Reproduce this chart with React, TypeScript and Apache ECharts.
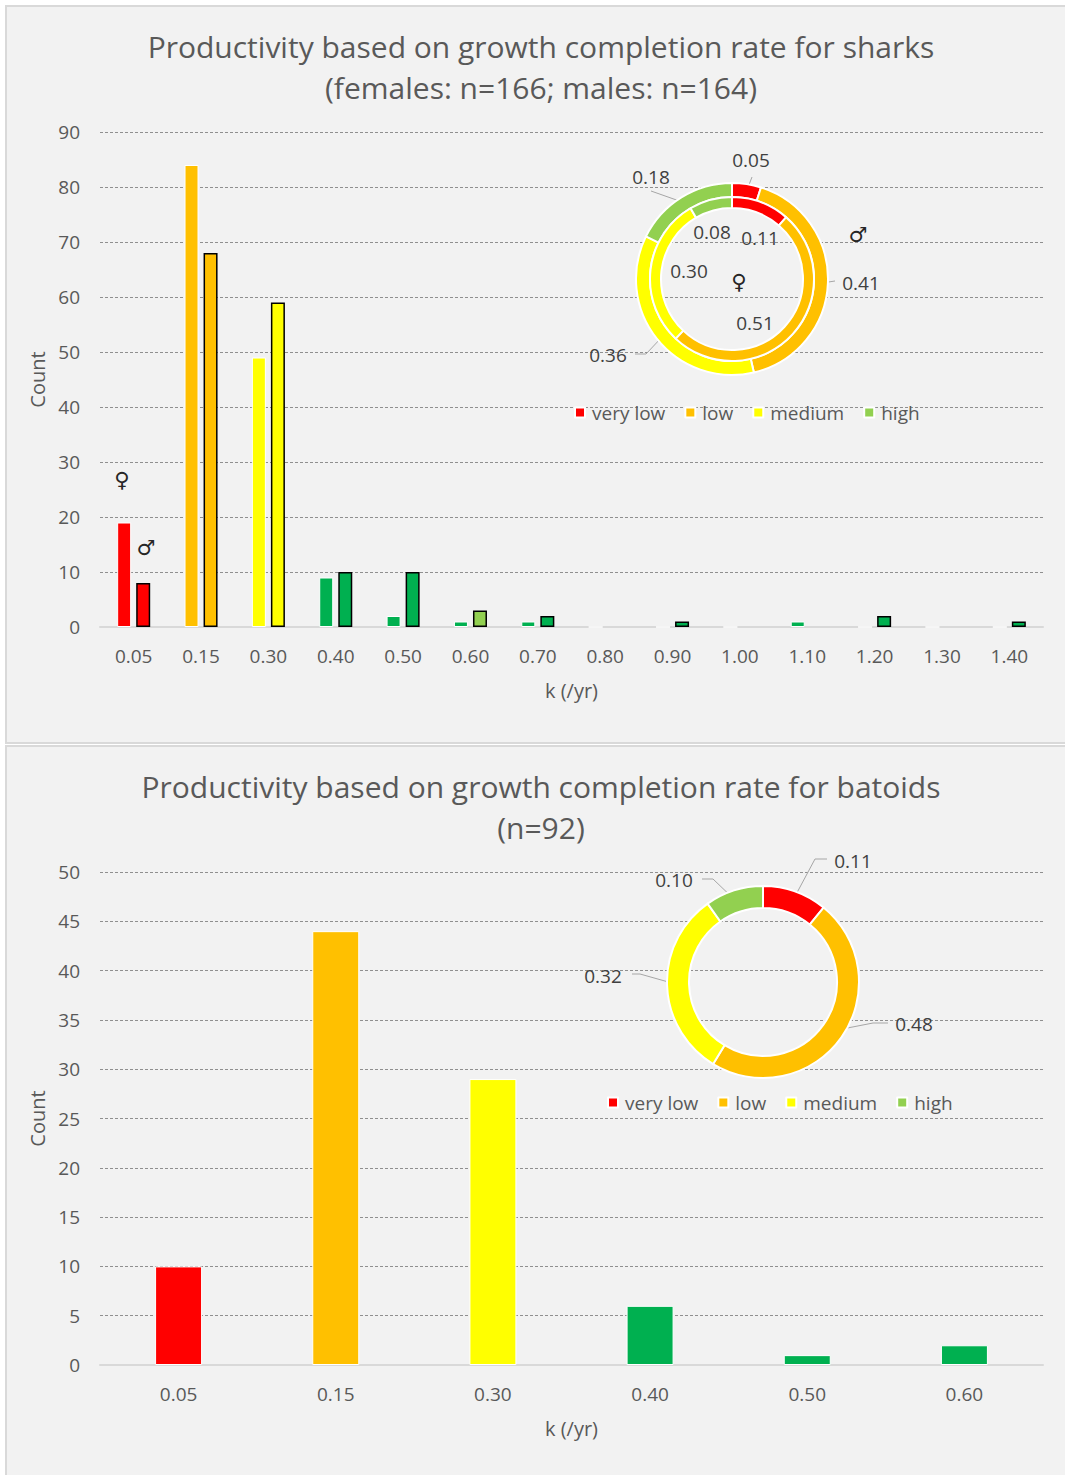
import React, { useEffect, useRef } from 'react';
import * as echarts from 'echarts';

// ---------- data ----------
const classes = ['very low', 'low', 'medium', 'high'];

const sharkK = ['0.05', '0.15', '0.30', '0.40', '0.50', '0.60', '0.70', '0.80', '0.90', '1.00', '1.10', '1.20', '1.30', '1.40'];
const sharkClass = ['very low', 'low', 'medium', 'high', 'high', 'high', 'high', 'high', 'high', 'high', 'high', 'high', 'high', 'high'];
const femaleCounts = [19, 84, 49, 9, 2, 1, 1, 0, 0, 0, 1, 0, 0, 0];
const maleCounts = [8, 68, 59, 10, 10, 3, 2, 0, 1, 0, 0, 2, 0, 1];
const maleLightGreenBars = ['0.60'];

const batoidK = ['0.05', '0.15', '0.30', '0.40', '0.50', '0.60'];
const batoidClass = ['very low', 'low', 'medium', 'high', 'high', 'high'];
const batoidCounts = [10, 44, 29, 6, 1, 2];

// ---------- styles / layout ----------
const FONT = "'Open Sans', sans-serif";
const TEXT = '#595959';
const classColor: Record<string, string> = {
  'very low': '#FF0000',
  low: '#FFC000',
  medium: '#FFFF00',
  high: '#92D050',
};
const barHighColor = '#00B050';

const femaleLabelXY = [[760, 238], [755, 323], [689, 271], [712, 232]];
const maleLabelXY = [[751, 160], [861, 283], [608, 355], [651, 177]];
const maleLinePts = [
  [[747, 190], [752, 177], [752, 177]],
  [[822, 283], [835, 281], [835, 281]],
  [[662, 337], [646, 354], [635, 354]],
  [[685, 203], [651, 191], [651, 191]],
];
const batoidLabelXY = [[853, 861], [914, 1024], [603, 976], [674, 880]];
const batoidLinePts = [
  [[792, 902], [815, 859], [827, 859]],
  [[832, 1031], [873, 1023], [888, 1023]],
  [[679, 985], [640, 974], [632, 974]],
  [[737, 902], [713, 879], [702, 879]],
];

function classTotals(counts: number[], cls: string[]) {
  return classes.map((c) => ({
    name: c,
    value: counts.reduce((s, v, i) => (cls[i] === c ? s + v : s), 0),
    itemStyle: { color: classColor[c] },
  }));
}

function barColor(cls: string, k: string, lightList: string[] = []) {
  if (cls === 'high') return lightList.includes(k) ? classColor.high : barHighColor;
  return classColor[cls];
}

export default function App() {
  const ref = useRef<HTMLDivElement>(null);

  useEffect(() => {
    if (!ref.current) return;
    const chart = echarts.init(ref.current, undefined, { renderer: 'svg' });

    const axisLabel = { color: TEXT, fontSize: 19, fontFamily: FONT };
    const splitLine = { show: true, lineStyle: { color: '#8f8f8f', type: [3, 2] as any, width: 1 } };
    const xAxisLine = { show: true, lineStyle: { color: '#d9d9d9', width: 2 } };
    const nameStyle = { color: TEXT, fontSize: 20, fontFamily: FONT };

    const pieLabelFmt = (p: any) => (p.percent / 100).toFixed(2);
    const pieLabelStyle = { color: '#404040', fontSize: 19, fontFamily: FONT };

    const legendBase = {
      data: classes,
      padding: 0,
      icon: 'rect',
      itemWidth: 10,
      itemHeight: 10,
      itemGap: 19,
      selectedMode: false,
      textStyle: { color: TEXT, fontSize: 19, fontFamily: FONT, padding: [0, 0, 0, 2] },
    };

    const option: any = {
      animation: false,
      backgroundColor: '#ffffff',
      textStyle: { fontFamily: FONT },
      title: [
        {
          text: 'Productivity based on growth completion rate for sharks\n(females: n=166; males: n=164)',
          left: 541,
          top: 26,
          padding: 0,
          textAlign: 'center',
          textStyle: { fontSize: 30, lineHeight: 41, fontWeight: 'normal', color: TEXT, fontFamily: FONT },
        },
        {
          text: 'Productivity based on growth completion rate for batoids\n(n=92)',
          left: 541,
          top: 766,
          padding: 0,
          textAlign: 'center',
          textStyle: { fontSize: 30, lineHeight: 41, fontWeight: 'normal', color: TEXT, fontFamily: FONT },
        },
      ],
      legend: [
        { ...legendBase, left: 574, top: 403 },
        { ...legendBase, left: 607, top: 1093 },
      ],
      grid: [
        { left: 100, top: 132, width: 943, height: 495 },
        { left: 100, top: 872, width: 943, height: 493 },
      ],
      xAxis: [
        {
          type: 'category',
          gridIndex: 0,
          data: sharkK,
          axisTick: { show: false },
          axisLine: xAxisLine,
          axisLabel: { ...axisLabel, margin: 19 },
          name: 'k (/yr)',
          nameLocation: 'middle',
          nameGap: 53,
          nameTextStyle: nameStyle,
        },
        {
          type: 'category',
          gridIndex: 1,
          data: batoidK,
          axisTick: { show: false },
          axisLine: xAxisLine,
          axisLabel: { ...axisLabel, margin: 19 },
          name: 'k (/yr)',
          nameLocation: 'middle',
          nameGap: 53,
          nameTextStyle: nameStyle,
        },
      ],
      yAxis: [
        {
          type: 'value',
          gridIndex: 0,
          min: 0,
          max: 90,
          interval: 10,
          axisLine: { show: false },
          axisTick: { show: false },
          axisLabel: { ...axisLabel, margin: 20 },
          splitLine,
          name: 'Count',
          nameLocation: 'middle',
          nameGap: 50,
          nameTextStyle: nameStyle,
        },
        {
          type: 'value',
          gridIndex: 1,
          min: 0,
          max: 50,
          interval: 5,
          axisLine: { show: false },
          axisTick: { show: false },
          axisLabel: { ...axisLabel, margin: 20 },
          splitLine,
          name: 'Count',
          nameLocation: 'middle',
          nameGap: 50,
          nameTextStyle: nameStyle,
        },
      ],
      series: [
        {
          name: 'females',
          type: 'bar',
          xAxisIndex: 0,
          yAxisIndex: 0,
          barWidth: 14,
          barGap: '36%',
          data: femaleCounts.map((v, i) => ({
            value: v,
            itemStyle: { color: barColor(sharkClass[i], sharkK[i]), borderColor: '#ffffff', borderWidth: 1 },
          })),
        },
        {
          name: 'males',
          type: 'bar',
          xAxisIndex: 0,
          yAxisIndex: 0,
          barWidth: 14,
          data: maleCounts.map((v, i) => ({
            value: v,
            itemStyle: {
              color: barColor(sharkClass[i], sharkK[i], maleLightGreenBars),
              borderColor: '#000000',
              borderWidth: v > 0 ? 1.5 : 0,
            },
          })),
        },
        {
          name: 'batoids',
          type: 'bar',
          xAxisIndex: 1,
          yAxisIndex: 1,
          barWidth: 47,
          data: batoidCounts.map((v, i) => ({
            value: v,
            itemStyle: { color: barColor(batoidClass[i], batoidK[i]), borderColor: '#ffffff', borderWidth: 1 },
          })),
        },
        {
          name: 'males share',
          type: 'pie',
          center: [732, 279],
          radius: [82, 96],
          startAngle: 90,
          clockwise: true,
          itemStyle: { borderColor: '#ffffff', borderWidth: 2 },
          label: { show: true, position: 'outside', formatter: pieLabelFmt, ...pieLabelStyle },
          labelLine: { show: true, length: 10, length2: 10, lineStyle: { color: '#a6a6a6', width: 1 } },
          labelLayout: (p: any) => ({
            x: maleLabelXY[p.dataIndex][0],
            y: maleLabelXY[p.dataIndex][1],
            align: 'center',
            verticalAlign: 'middle',
            labelLinePoints: maleLinePts[p.dataIndex],
          }),
          emphasis: { disabled: true },
          data: classTotals(maleCounts, sharkClass),
        },
        {
          name: 'females share',
          type: 'pie',
          center: [732, 279],
          radius: [71, 82],
          startAngle: 90,
          clockwise: true,
          itemStyle: { borderColor: '#ffffff', borderWidth: 2 },
          label: { show: true, position: 'inside', formatter: pieLabelFmt, ...pieLabelStyle },
          labelLine: { show: false },
          labelLayout: (p: any) => ({
            x: femaleLabelXY[p.dataIndex][0],
            y: femaleLabelXY[p.dataIndex][1],
            align: 'center',
            verticalAlign: 'middle',
          }),
          emphasis: { disabled: true },
          data: classTotals(femaleCounts, sharkClass),
        },
        {
          name: 'batoid share',
          type: 'pie',
          center: [763, 982],
          radius: [74, 96],
          startAngle: 90,
          clockwise: true,
          itemStyle: { borderColor: '#ffffff', borderWidth: 2 },
          label: { show: true, position: 'outside', formatter: pieLabelFmt, ...pieLabelStyle },
          labelLine: { show: true, length: 10, length2: 10, lineStyle: { color: '#a6a6a6', width: 1 } },
          labelLayout: (p: any) => ({
            x: batoidLabelXY[p.dataIndex][0],
            y: batoidLabelXY[p.dataIndex][1],
            align: 'center',
            verticalAlign: 'middle',
            labelLinePoints: batoidLinePts[p.dataIndex],
          }),
          emphasis: { disabled: true },
          data: classTotals(batoidCounts, batoidClass),
        },
      ],
      graphic: [
        {
          type: 'rect',
          z: -100,
          silent: true,
          shape: { x: 6, y: 6, width: 1070, height: 737 },
          style: { fill: '#f2f2f2', stroke: '#d9d9d9', lineWidth: 2 },
        },
        {
          type: 'rect',
          z: -100,
          silent: true,
          shape: { x: 6, y: 746, width: 1070, height: 740 },
          style: { fill: '#f2f2f2', stroke: '#d9d9d9', lineWidth: 2 },
        },
        {
          type: 'text',
          x: 122,
          y: 480,
          style: { text: '\u2640', fontSize: 21, fontFamily: 'DejaVu Sans', fill: '#262626', align: 'center', verticalAlign: 'middle' },
        },
        {
          type: 'text',
          x: 146,
          y: 548,
          style: { text: '\u2642', fontSize: 21, fontFamily: 'DejaVu Sans', fill: '#262626', align: 'center', verticalAlign: 'middle' },
        },
        {
          type: 'text',
          x: 858,
          y: 235,
          style: { text: '\u2642', fontSize: 21, fontFamily: 'DejaVu Sans', fill: '#262626', align: 'center', verticalAlign: 'middle' },
        },
        {
          type: 'text',
          x: 739,
          y: 282,
          style: { text: '\u2640', fontSize: 21, fontFamily: 'DejaVu Sans', fill: '#262626', align: 'center', verticalAlign: 'middle' },
        },
      ],
    };

    chart.setOption(option);
    return () => chart.dispose();
  }, []);

  return (
    <div
      ref={ref}
      style={{ position: 'absolute', left: 0, top: 0, width: 1065, height: 1475 }}
    />
  );
}
